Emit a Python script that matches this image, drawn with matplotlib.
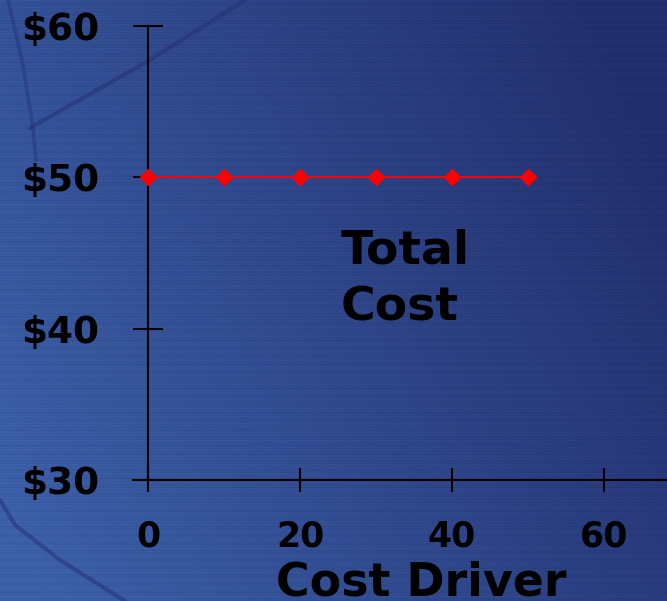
import numpy as np
import matplotlib
matplotlib.use("Agg")
import matplotlib.pyplot as plt

# Chart data
driver = [0, 10, 20, 30, 40, 50]
total_cost = [50, 50, 50, 50, 50, 50]
x_ticks = [0, 20, 40, 60]
y_ticks = [30, 40, 50, 60]
y_tick_labels = ["$30", "$40", "$50", "$60"]

W, H = 667, 601
fig = plt.figure(figsize=(W / 100, H / 100), dpi=100)

# Slide-style blue background with a soft diagonal gradient and fine scanlines
bg = fig.add_axes([0, 0, 1, 1], zorder=0)
bg.set_axis_off()
xx, yy = np.meshgrid(np.linspace(0, 1, W), np.linspace(0, 1, H))
t = np.clip(0.8 * xx + 0.35 * (1 - yy) - 0.05, 0, 1)
light = np.array([0x3c, 0x60, 0xa8]) / 255
dark = np.array([0x22, 0x2f, 0x6e]) / 255
img = light[None, None, :] * (1 - t[..., None]) + dark[None, None, :] * t[..., None]
rows = np.arange(H)
stripes = 0.03 * np.sin(rows * 2.1) + 0.02 * np.sin(rows * 0.77 + 1.3) + 0.015 * np.sin(rows * 3.7)
img = np.clip(img * (1 + stripes[:, None, None]), 0, 1)
bg.imshow(img, extent=[0, W, H, 0], aspect="auto")
bg.set_xlim(0, W)
bg.set_ylim(H, 0)

# Faint decorative arcs
arc_col = (0.15, 0.18, 0.45)
bg.plot([245, 150, 30], [0, 60, 128], color=arc_col, lw=3, alpha=0.5, solid_capstyle="round")
bg.plot([8, 22, 33, 36], [0, 60, 128, 160], color=arc_col, lw=2.5, alpha=0.45, solid_capstyle="round")
bg.plot([0, 15, 60, 125], [500, 525, 560, 601], color=arc_col, lw=3, alpha=0.5, solid_capstyle="round")

# Main chart axes spanning the figure
ax = fig.add_axes([0, 0, 1, 1], zorder=1)
ax.patch.set_alpha(0)
px_x = 7.6
px_y = 454 / 30
ax.set_xlim(-148 / px_x, (W - 148) / px_x)
ax.set_ylim(30 - (H - 480) / px_y, 60 + 26 / px_y)

ax.plot(driver, total_cost, color="#ff0000", lw=1.5, marker="D", markersize=8,
        markeredgecolor="#ff0000", markerfacecolor="#ff0000", zorder=3)

for s in ("top", "right"):
    ax.spines[s].set_visible(False)
ax.spines["left"].set_position(("data", 0))
ax.spines["left"].set_bounds(30, 60)
ax.spines["bottom"].set_position(("data", 30))
ax.spines["bottom"].set_bounds(-15 / px_x, (W - 148) / px_x)
for s in ("left", "bottom"):
    ax.spines[s].set_linewidth(1.5)
    ax.spines[s].set_color("black")

font = "DejaVu Sans"
ax.set_xticks(x_ticks)
ax.set_xticklabels([str(v) for v in x_ticks], fontsize=25, fontweight="bold", family=font)
ax.set_yticks(y_ticks)
ax.set_yticklabels(y_tick_labels, fontsize=27, fontweight="bold", family=font)
ax.tick_params(axis="y", direction="inout", length=21.6, width=1.5, pad=24.5, colors="black")
ax.tick_params(axis="x", direction="inout", length=17.3, width=1.5, pad=20, colors="black")

ax.set_xlabel("Cost Driver", fontsize=33, fontweight="bold", family=font)
ax.xaxis.label.set_va("baseline")
ax.xaxis.set_label_coords(421 / W, 1 - 596 / H)

# Series caption; baseline of the last line sits at the given y
ax.text(25.4, 60 - (321 - 26) / px_y, "Total\nCost", fontsize=34, fontweight="bold",
        family=font, ha="left", va="baseline", linespacing=1.35)

fig.savefig("out.png", dpi=100)
